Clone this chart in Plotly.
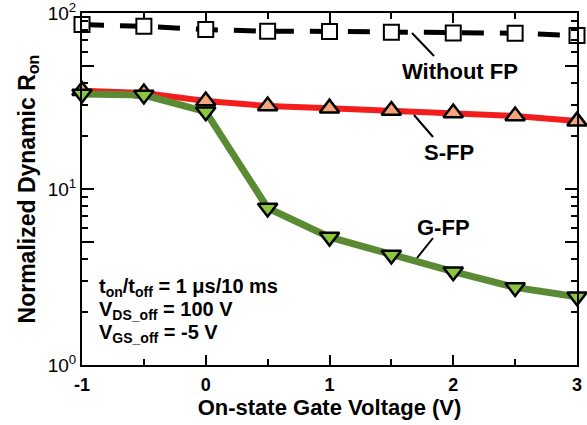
import plotly.graph_objects as go

# ---- data ----
gate_voltage = [-1, -0.5, 0, 0.5, 1, 1.5, 2, 2.5, 3]
without_fp = [86.0, 84.0, 80.5, 78.8, 78.6, 77.8, 77.0, 76.8, 74.4]
s_fp = [36.2, 35.1, 31.6, 29.6, 28.8, 27.9, 27.0, 26.0, 24.3]
g_fp = [34.7, 34.2, 27.5, 7.8, 5.33, 4.22, 3.39, 2.76, 2.44]

y_tickvals = [1, 5, 10, 50, 100]
y_ticktext = ["10<sup>0</sup>", "", "10<sup>1</sup>", "", "10<sup>2</sup>"]
y_minor = [2, 3, 4, 6, 7, 8, 9, 20, 30, 40, 60, 70, 80, 90]
x_tickvals = [-1, 0, 1, 2, 3]
x_ticktext = ["<b>-1</b>", "<b>0</b>", "<b>1</b>", "<b>2</b>", "<b>3</b>"]

FONT = "Liberation Sans, Arial, sans-serif"

W, H = 587, 425
L, R, T, B = 82, 10, 13, 60
PW, PH = W - L - R, H - T - B


def px(x):
    return (x - L) / PW


def py(y):
    return (H - B - y) / PH


fig = go.Figure()

fig.add_trace(go.Scatter(
    x=gate_voltage, y=without_fp, mode="lines+markers", name="Without FP",
    line=dict(color="black", width=5, dash="22px,16px"),
    marker=dict(symbol="square", size=15, color="white",
                line=dict(color="black", width=2)),
    cliponaxis=False,
))
fig.add_trace(go.Scatter(
    x=gate_voltage, y=s_fp, mode="lines+markers", name="S-FP",
    line=dict(color="#f41d1d", width=6),
    marker=dict(symbol="triangle-up", size=17, color="#f2a679",
                line=dict(color="black", width=2.5)),
    cliponaxis=False,
))
fig.add_trace(go.Scatter(
    x=gate_voltage, y=g_fp, mode="lines+markers", name="G-FP",
    line=dict(color="#5b8a35", width=7),
    marker=dict(symbol="triangle-down", size=17, color="#8cc63f",
                line=dict(color="black", width=2.5)),
    cliponaxis=False,
))

fig.update_xaxes(
    range=[-1, 3], tickvals=x_tickvals, ticktext=x_ticktext,
    ticks="inside", ticklen=10, tickwidth=2, tickcolor="black",
    minor=dict(dtick=0.5, tick0=0, ticks="inside", ticklen=6, tickwidth=2, tickcolor="black"),
    showline=True, linewidth=2, linecolor="black", mirror="allticks",
    showgrid=False, zeroline=False, automargin=False,
    ticklabeloverflow="allow",
    tickfont=dict(family=FONT, size=18, color="black"),
    ticklabelstandoff=2,
    title=dict(text="<b>On-state Gate Voltage (V)</b>",
               font=dict(family=FONT, size=22, color="black"), standoff=0),
)
fig.update_yaxes(
    type="log", range=[0, 2], tickvals=y_tickvals, ticktext=y_ticktext,
    ticks="inside", ticklen=12, tickwidth=2, tickcolor="black",
    minor=dict(tickvals=y_minor, ticks="inside", ticklen=6, tickwidth=2, tickcolor="black"),
    showline=True, linewidth=2, linecolor="black", mirror="allticks",
    showgrid=False, zeroline=False, automargin=False,
    ticklabeloverflow="allow",
    tickfont=dict(family=FONT, size=19, color="black"),
    title=dict(text="<b>Normalized Dynamic R<sub>on</sub></b>",
               font=dict(family=FONT, size=23, color="black"), standoff=6),
)

annotations = [
    dict(text="<b>Without FP</b>", x=px(460), y=py(71)),
    dict(text="<b>S-FP</b>", x=px(449), y=py(152)),
    dict(text="<b>G-FP</b>", x=px(443), y=py(227)),
]
for a in annotations:
    a.update(xref="paper", yref="paper", showarrow=False,
             xanchor="center", yanchor="middle",
             font=dict(family=FONT, size=22, color="black"))

text_lines = [
    ("t<sub>on</sub>/t<sub>off</sub> = 1 μs/10 ms", 287),
    ("V<sub>DS_off</sub> = 100 V", 310),
    ("V<sub>GS_off</sub> = -5 V", 333),
]
for txt, ypix in text_lines:
    annotations.append(dict(
        text="<b>" + txt + "</b>", x=px(97), y=py(ypix), xref="paper", yref="paper",
        showarrow=False, xanchor="left", yanchor="middle",
        font=dict(family=FONT, size=20, color="black")))

shapes = []
for (x0, y0, x1, y1) in [(412, 33, 434, 56), (414, 115, 433, 137), (433, 238, 417, 258)]:
    shapes.append(dict(type="line", xref="paper", yref="paper",
                       x0=px(x0), y0=py(y0), x1=px(x1), y1=py(y1),
                       line=dict(color="black", width=2)))

fig.update_layout(
    width=W, height=H, margin=dict(l=L, r=R, t=T, b=B),
    paper_bgcolor="white", plot_bgcolor="white",
    showlegend=False, annotations=annotations, shapes=shapes,
    font=dict(family=FONT, color="black"),
)

fig.write_html("out.html")
